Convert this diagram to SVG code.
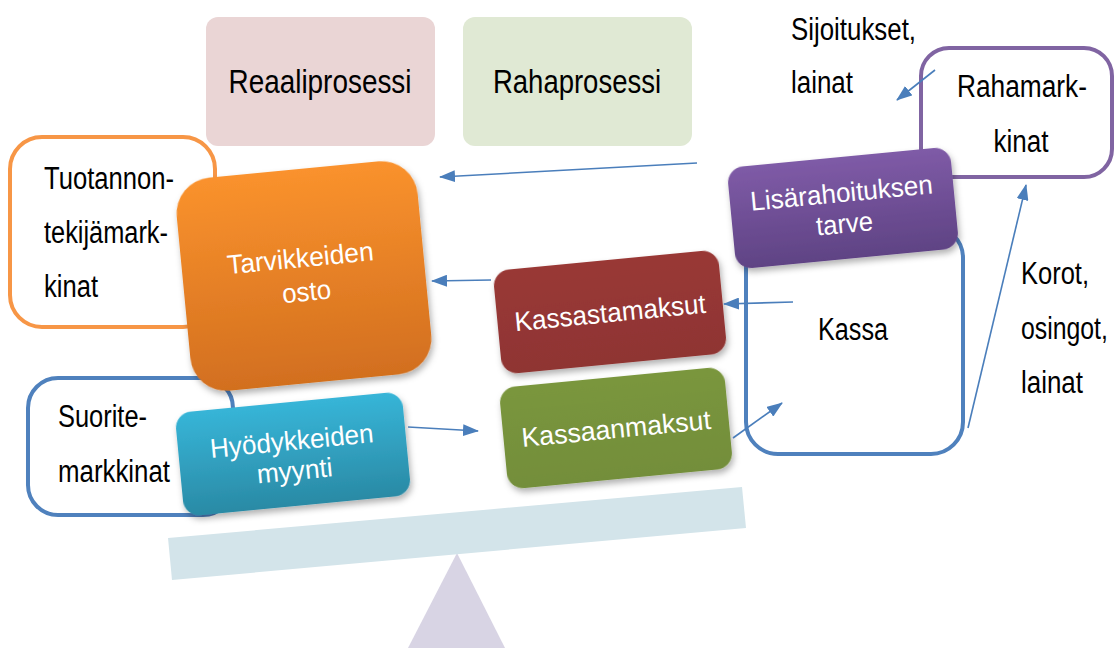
<svg xmlns="http://www.w3.org/2000/svg" width="1115" height="648" viewBox="0 0 1115 648">
<style>
.lbl{font-family:"Liberation Sans",Arial,sans-serif;font-size:31px;fill:#000}
.big{font-size:34px}
.wt{font-family:"Liberation Sans",Arial,sans-serif;font-size:27px;fill:#fff;text-anchor:middle}
.mid{text-anchor:middle}
.conn{stroke:#4A7EBB;stroke-width:1.6;fill:none;marker-end:url(#ah)}
.out{fill:#fff;stroke-width:4}
</style>
<defs>
<marker id="ah" markerUnits="userSpaceOnUse" markerWidth="16" markerHeight="12" refX="15" refY="6" orient="auto">
<path d="M0,0 L16,6 L0,12 Z" fill="#4A7EBB"/>
</marker>
<filter id="sh" x="-20%" y="-20%" width="140%" height="150%">
<feDropShadow dx="1.5" dy="4" stdDeviation="3" flood-color="#000" flood-opacity="0.3"/>
</filter>
<linearGradient id="gOr" x1="0" y1="0" x2="0" y2="1"><stop offset="0" stop-color="#FA922D"/><stop offset="1" stop-color="#D26F1F"/></linearGradient>
<linearGradient id="gTe" x1="0" y1="0" x2="0" y2="1"><stop offset="0" stop-color="#37B5D8"/><stop offset="1" stop-color="#2A8AA5"/></linearGradient>
<linearGradient id="gRe" x1="0" y1="0" x2="0" y2="1"><stop offset="0" stop-color="#993836"/><stop offset="1" stop-color="#8F3533"/></linearGradient>
<linearGradient id="gGr" x1="0" y1="0" x2="0" y2="1"><stop offset="0" stop-color="#7A963D"/><stop offset="1" stop-color="#738E3A"/></linearGradient>
<linearGradient id="gPu" x1="0" y1="0" x2="0" y2="1"><stop offset="0" stop-color="#7F5BA7"/><stop offset="1" stop-color="#5F4384"/></linearGradient>
</defs>

<g id="seesaw">
<polygon points="457,553 408,648 505,648" fill="#D8D4E4"/>
<polygon points="168,538 742,487 746,528 172,580" fill="#D3E4EA"/>
</g>

<g id="reaaliprosessi">
<rect x="206" y="17" width="229" height="129" rx="12" fill="#EAD5D5"/>
<text class="lbl big mid" x="320" y="93" textLength="183" lengthAdjust="spacingAndGlyphs">Reaaliprosessi</text>
</g>
<g id="rahaprosessi">
<rect x="463" y="17" width="229" height="129" rx="12" fill="#E0E9D4"/>
<text class="lbl big mid" x="577" y="93" textLength="168" lengthAdjust="spacingAndGlyphs">Rahaprosessi</text>
</g>

<g id="tuotannontekijamarkkinat">
<rect class="out" x="10" y="137" width="205" height="190" rx="32" stroke="#F79646"/>
<text class="lbl" x="44" y="189" textLength="130" lengthAdjust="spacingAndGlyphs">Tuotannon-</text>
<text class="lbl" x="44" y="243" textLength="124" lengthAdjust="spacingAndGlyphs">tekijämark-</text>
<text class="lbl" x="44" y="297" textLength="54" lengthAdjust="spacingAndGlyphs">kinat</text>
</g>

<g id="suoritemarkkinat">
<rect class="out" x="28" y="378" width="205" height="137" rx="30" stroke="#4F81BD"/>
<text class="lbl" x="58" y="427" textLength="89" lengthAdjust="spacingAndGlyphs">Suorite-</text>
<text class="lbl" x="58" y="482" textLength="112" lengthAdjust="spacingAndGlyphs">markkinat</text>
</g>

<g id="kassa">
<rect class="out" x="746" y="226" width="217" height="228" rx="32" stroke="#4F81BD" stroke-width="4.5"/>
<text class="lbl mid" x="853" y="340" textLength="70" lengthAdjust="spacingAndGlyphs">Kassa</text>
</g>

<g id="rahamarkkinat">
<rect class="out" x="921" y="48" width="191" height="129" rx="28" stroke="#8064A2"/>
<text class="lbl mid" x="1022" y="97" textLength="130" lengthAdjust="spacingAndGlyphs">Rahamark-</text>
<text class="lbl mid" x="1021" y="152" textLength="55" lengthAdjust="spacingAndGlyphs">kinat</text>
</g>

<g id="sijoitukset">
<text class="lbl" x="791" y="40" textLength="125" lengthAdjust="spacingAndGlyphs">Sijoitukset,</text>
<text class="lbl" x="791" y="93" textLength="62" lengthAdjust="spacingAndGlyphs">lainat</text>
</g>

<g id="korot">
<text class="lbl" x="1021" y="284" textLength="68" lengthAdjust="spacingAndGlyphs">Korot,</text>
<text class="lbl" transform="translate(1021,339) scale(0.8,1)" x="0" y="0">osingot,</text>
<text class="lbl" x="1021" y="393" textLength="62" lengthAdjust="spacingAndGlyphs">lainat</text>
</g>

<g id="tarvikkeiden-osto" transform="translate(304,276) rotate(-5.5)">
<rect x="-121" y="-107" width="242" height="214" rx="36" fill="url(#gOr)" filter="url(#sh)"/>
<text class="wt" x="-2" y="-9" textLength="147" lengthAdjust="spacingAndGlyphs">Tarvikkeiden</text>
<text class="wt" x="1" y="25" textLength="49" lengthAdjust="spacingAndGlyphs">osto</text>
</g>

<g id="hyodykkeiden-myynti" transform="translate(293,454) rotate(-5.5)">
<rect x="-114" y="-52" width="228" height="104" rx="16" fill="url(#gTe)" filter="url(#sh)"/>
<text class="wt" x="0" y="-4" textLength="164" lengthAdjust="spacingAndGlyphs">Hyödykkeiden</text>
<text class="wt" x="0" y="26" textLength="76" lengthAdjust="spacingAndGlyphs">myynti</text>
</g>

<g id="kassastamaksut" transform="translate(610,312) rotate(-5.5)">
<rect x="-113" y="-52" width="226" height="104" rx="16" fill="url(#gRe)" filter="url(#sh)"/>
<text class="wt" x="0" y="10" textLength="192" lengthAdjust="spacingAndGlyphs">Kassastamaksut</text>
</g>

<g id="kassaanmaksut" transform="translate(616,428) rotate(-5.5)">
<rect x="-113" y="-51" width="226" height="102" rx="16" fill="url(#gGr)" filter="url(#sh)"/>
<text class="wt" x="0" y="10" textLength="190" lengthAdjust="spacingAndGlyphs">Kassaanmaksut</text>
</g>

<g id="lisarahoituksen-tarve" transform="translate(843,208) rotate(-5.5)">
<rect x="-112" y="-51" width="224" height="102" rx="16" fill="url(#gPu)" filter="url(#sh)"/>
<text class="wt" x="0" y="-6" textLength="183" lengthAdjust="spacingAndGlyphs">Lisärahoituksen</text>
<text class="wt" x="0" y="25" textLength="57" lengthAdjust="spacingAndGlyphs">tarve</text>
</g>

<g id="connectors">
<line class="conn" x1="697" y1="163" x2="440" y2="177"/>
<line class="conn" x1="491" y1="280" x2="432" y2="281"/>
<line class="conn" x1="793" y1="302" x2="724" y2="304"/>
<line class="conn" x1="408" y1="427" x2="478" y2="431"/>
<line class="conn" x1="733" y1="438" x2="782" y2="403"/>
<line class="conn" x1="968" y1="428" x2="1026" y2="185"/>
<line class="conn" x1="935" y1="70" x2="897" y2="100"/>
</g>
</svg>
